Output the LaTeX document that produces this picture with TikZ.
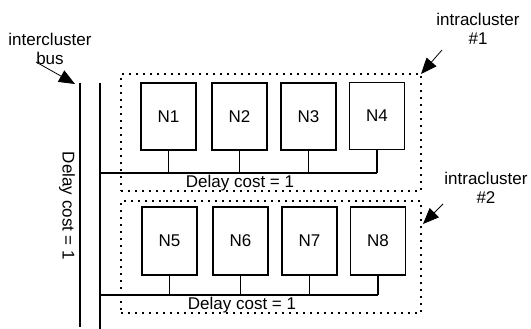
\documentclass[tikz,border=0pt]{standalone}
\usepackage{fontspec}
\setmainfont{Liberation Sans}
\usetikzlibrary{arrows.meta}
\begin{document}
\begin{tikzpicture}[x=1pt,y=-1pt,
  font=\fontsize{17}{19.5}\selectfont,
  nodebox/.style={draw, line width=1.8pt, minimum width=55pt, minimum height=67pt, inner sep=0pt},
  clusterbox/.style={draw, line width=1.8pt, dash pattern=on 1.8pt off 5.2pt, minimum width=300pt, inner sep=0pt},
  wire/.style={line width=1.8pt},
  busline/.style={line width=2pt},
  lbl/.style={inner sep=0pt, align=center},
  pointer/.style={line width=0.8pt, -{Triangle[length=16pt,width=13pt]}}
]
\useasboundingbox (0,0) rectangle (531,329);

% clusters
\node[clusterbox, minimum height=117pt] (C1) at (271,132.5) {};
\node[clusterbox, minimum height=112pt] (C2) at (271,257) {};

% bus lines
\coordinate (BLt) at (80,83);
\coordinate (BLb) at (80,327);
\coordinate (BRt) at (100,83);
\coordinate (BRb) at (100,329);
\draw[busline] (BLt) -- (BLb);
\draw[busline] (BRt) -- (BRb);

% row 1 nodes
\node[nodebox] (N1) at (168.5,116.5) {N1};
\node[nodebox] (N2) at (239.5,116.5) {N2};
\node[nodebox] (N3) at (308.5,116.5) {N3};
\node[nodebox] (N4) at (377,116) {N4};
% row 2 nodes
\node[nodebox, minimum height=68pt] (N5) at (169.5,241) {N5};
\node[nodebox, minimum height=68pt] (N6) at (240.5,241) {N6};
\node[nodebox, minimum height=68pt] (N7) at (309.5,241) {N7};
\node[nodebox, minimum height=68pt] (N8) at (378,241) {N8};

% row 1 wiring
\coordinate (R1s) at (100,173);
\coordinate (R1a) at (N1.south |- R1s);
\coordinate (R1b) at (N2.south |- R1s);
\coordinate (R1c) at (N3.south |- R1s);
\coordinate (R1d) at (N4.south |- R1s);
\draw[wire] (R1s) -- (R1d);
\draw[wire] (N1.south) -- (R1a);
\draw[wire] (N2.south) -- (R1b);
\draw[wire] (N3.south) -- (R1c);
\draw[wire] (N4.south) -- (R1d);

% row 2 wiring
\coordinate (R2s) at (100,295);
\coordinate (R2a) at (N5.south |- R2s);
\coordinate (R2b) at (N6.south |- R2s);
\coordinate (R2c) at (N7.south |- R2s);
\coordinate (R2d) at (N8.south |- R2s);
\draw[wire] (R2s) -- (R2d);
\draw[wire] (N5.south) -- (R2a);
\draw[wire] (N6.south) -- (R2b);
\draw[wire] (N7.south) -- (R2c);
\draw[wire] (N8.south) -- (R2d);

% delay labels
\node[lbl] (D1) at (240,183) {Delay cost = 1};
\node[lbl] (D2) at (242,305) {Delay cost = 1};
\node[lbl, rotate=-90] (DV) at (67,206) {Delay cost = 1};

% callouts
\node[lbl] (Lbus) at (50,49) {intercluster\\bus};
\node[lbl] (Lc1) at (478,29) {intracluster\\\#1};
\node[lbl] (Lc2) at (486,188) {intracluster\\\#2};

\coordinate (Abus0) at (36,62);
\coordinate (Abus1) at (75,84);
\draw[pointer] (Abus0) -- (Abus1);
\coordinate (Ac10) at (442,50);
\coordinate (Ac11) at (421,74);
\draw[pointer] (Ac10) -- (Ac11);
\coordinate (Ac20) at (443,204);
\coordinate (Ac21) at (423,224);
\draw[pointer] (Ac20) -- (Ac21);
\end{tikzpicture}
\end{document}
